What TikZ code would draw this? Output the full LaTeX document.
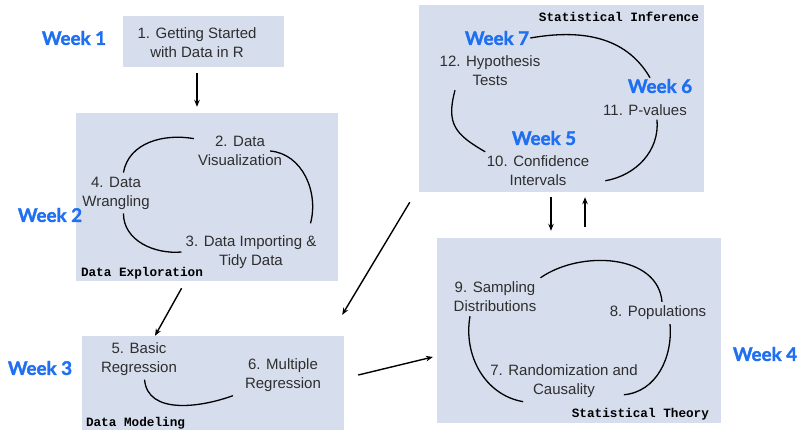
\documentclass[tikz,border=0pt]{standalone}
\usepackage{fontspec}
\setmainfont{Liberation Sans}
\newfontfamily\weekfont{Lato}[BoldFeatures={FakeBold=1.6}]
\newfontfamily\tagfont{Liberation Mono}
\usetikzlibrary{arrows.meta}

\definecolor{partfill}{HTML}{D6DEEE}
\definecolor{weekblue}{HTML}{1F6FF2}
\definecolor{topicgray}{HTML}{2E2E2E}

\tikzset{
  part/.style={fill=partfill, draw=none, inner sep=0pt},
  topic/.style={align=center, inner sep=4pt, text=topicgray, font=\fontsize{15}{19}\selectfont},
  week/.style={text=weekblue, inner sep=1pt, font=\weekfont\bfseries\fontsize{18.8}{20}\selectfont},
  tag/.style={inner sep=0pt, font=\tagfont\bfseries\fontsize{12.7}{14}\selectfont},
  flow/.style={-{Stealth[length=7pt,width=5.5pt]}, line width=1.4pt},
  cyc/.style={line width=1.3pt},
}

\begin{document}
\begin{tikzpicture}[x=1pt,y=-1pt]
\useasboundingbox (0,0) rectangle (799,429);

% course parts
\node[part, minimum width=161pt, minimum height=51pt] (start) at (203.5,41.5) {};
\node[part, minimum width=262pt, minimum height=168pt] (explore) at (207,197) {};
\node[part, minimum width=262pt, minimum height=98pt] (model) at (213,385) {};
\node[part, minimum width=284pt, minimum height=185pt] (theory) at (579,330.5) {};
\node[part, minimum width=285pt, minimum height=187pt] (infer) at (561.5,98.5) {};

\node[tag, anchor=base west] (texplore) at ([shift={(5pt,5pt)}]explore.south west) {Data Exploration};
\node[tag, anchor=base west] (tmodel) at ([shift={(4pt,-91pt)}]model.north west) {Data Modeling};
\node[tag, anchor=base east] (ttheory) at ([shift={(-12pt,6pt)}]theory.south east) {Statistical Theory};
\node[tag, anchor=base east] (tinfer) at ([shift={(-5pt,-17pt)}]infer.north east) {Statistical Inference};

% chapters
\node[topic] (t1) at (197,43) {1. Getting Started\\with Data in R};
\node[topic] (t2) at (240,151) {2. Data\\Visualization};
\node[topic] (t3) at (251,252) {3. Data Importing \&\\Tidy Data};
\node[topic] (t4) at (116,193) {4. Data\\Wrangling};
\node[topic] (t5) at (139,359) {5. Basic\\Regression};
\node[topic] (t6) at (283,375) {6. Multiple\\Regression};
\node[topic] (t7) at (564,381) {7. Randomization and\\Causality};
\node[topic] (t8) at (658,313) {8. Populations};
\node[topic] (t9) at (495,297) {9. Sampling\\Distributions};
\node[topic] (t10) at (538,171) {10. Confidence\\Intervals};
\node[topic] (t11) at (645,110) {11. P-values};
\node[topic] (t12) at (490,71) {12. Hypothesis\\Tests};

% weeks
\node[week] (w1) at (74,38) {Week 1};
\node[week] (w2) at (50,215) {Week 2};
\node[week] (w3) at (40,368) {Week 3};
\node[week] (w4) at (765,354) {Week 4};
\node[week] (w5) at (544,138) {Week 5};
\node[week] (w6) at (660,86) {Week 6};
\node[week] (w7) at (497,38) {Week 7};

% order of the parts
\path[draw,flow,shorten <=6pt,shorten >=6pt] (t1.south |- start.south) -- (t1.south |- explore.north);
\path[draw,flow,shorten <=8pt] ([xshift=-21.5pt]explore.south) -- ([xshift=-58pt]model.north);
\path[draw,flow,shorten <=14.4pt,shorten >=4pt] ([yshift=6.6pt]model.east) -- ([yshift=-25.5pt]theory.west);
\path[draw,flow,shorten <=5pt,shorten >=7pt] ([xshift=-10.5pt]infer.south) -- ([xshift=-28pt]theory.north);
\path[draw,flow,shorten <=11pt,shorten >=5pt] ([xshift=6pt]theory.north) -- ([xshift=23.5pt]infer.south);
\path[draw,flow,shorten <=11.7pt,shorten >=24.5pt] ([xshift=-3pt]infer.south west) -- ([xshift=-14.6pt]model.north east);

% cycles inside the parts
\path[draw,cyc] (t4.70) to[out=80,in=170] (t2.165);
\path[draw,cyc] ([xshift=-16pt]t2.east) to[out=-5,in=75] ([shift={(-10pt,8pt)}]t3.north east);
\path[draw,cyc] (t4.-70) to[out=-90,in=185] (t3.west);
\path[draw,cyc] (t5.-75) to[out=-85,in=200] ([xshift=-8pt]t6.south west);
\path[draw,cyc] (t9.north east) to[out=35,in=95] ([xshift=4pt]t8.north);
\path[draw,cyc] ([xshift=12pt]t8.south) to[out=-85,in=5] ([xshift=-18pt]t7.-10);
\path[draw,cyc] ([xshift=-25pt]t9.south) to[out=-100,in=170] ([xshift=37pt]t7.south west);
\path[draw,cyc] (w7.east) to[out=10,in=120] ([xshift=-10pt]w6.north);
\path[draw,cyc] ([xshift=12pt]t11.south) to[out=-85,in=10] ([xshift=12pt]t10.-10);
\path[draw,cyc,looseness=1.3] ([xshift=-35pt]t12.south) to[out=-105,in=150] (t10.160);
\end{tikzpicture}
\end{document}
